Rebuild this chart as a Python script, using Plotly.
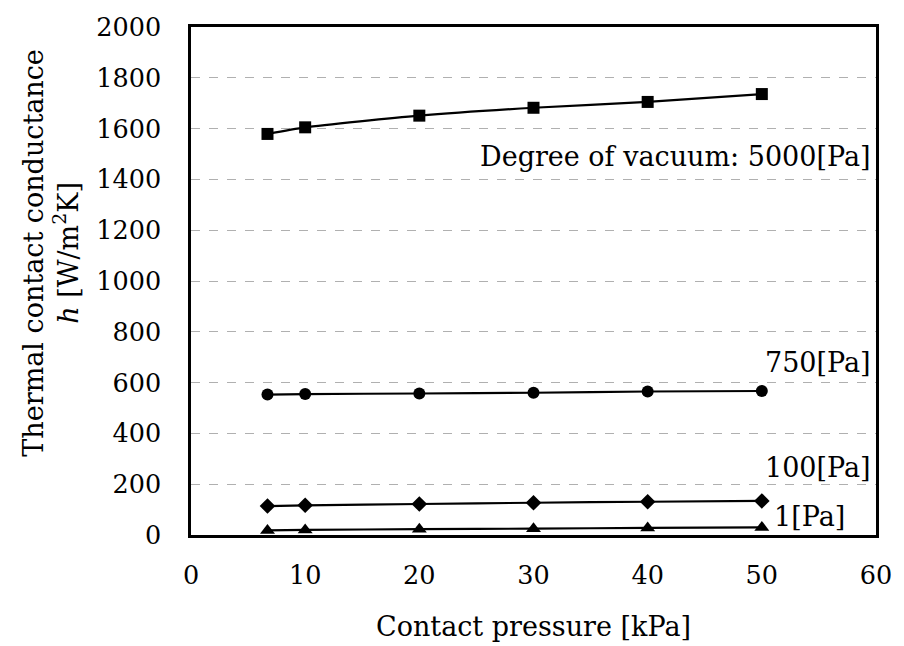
import plotly.graph_objects as go

pressure = [6.7, 10, 20, 30, 40, 50]
h_5000 = [1579, 1605, 1651, 1682, 1705, 1736]
h_750 = [553, 555, 557, 560, 565, 567]
h_100 = [114, 117, 122, 127, 131, 134]
h_1 = [18, 20, 23, 25, 28, 30]

series = [
    (h_5000, "square", 12, "Degree of vacuum: 5000[Pa]", 1490, 59.7),
    (h_750, "circle", 12, "750[Pa]", 678, 59.7),
    (h_100, "diamond", 12, "100[Pa]", 267, 59.7),
    (h_1, "triangle-up", 13, "1[Pa]", 71, 57.5),
]

FONT = "DejaVu Serif, serif"
fig = go.Figure()
annotations = []
for vals, sym, size, label, ly, lx in series:
    fig.add_trace(go.Scatter(
        x=pressure, y=vals, mode="lines+markers",
        line=dict(color="black", width=2.2, shape="spline", smoothing=0.6),
        marker=dict(symbol=sym, size=size, color="black"),
        showlegend=False,
    ))
    annotations.append(dict(x=lx, y=ly, xref="x", yref="y", text=label,
                            showarrow=False, xanchor="right", yanchor="middle",
                            font=dict(family=FONT, size=27, color="black")))

annotations.append(dict(x=0.5, y=-0.18, xref="paper", yref="paper",
                        text="Contact pressure [kPa]", showarrow=False,
                        xanchor="center", yanchor="middle",
                        font=dict(family=FONT, size=27, color="black")))
annotations.append(dict(x=-0.205, y=0.555, xref="paper", yref="paper",
                        text="Thermal contact conductance<br><i>h</i> [W/m<sup>2</sup>K]",
                        showarrow=False, textangle=-90,
                        xanchor="center", yanchor="middle",
                        font=dict(family=FONT, size=27, color="black")))

fig.update_layout(
    width=904, height=646,
    margin=dict(l=191, r=22, t=25, b=111),
    paper_bgcolor="white", plot_bgcolor="white",
    font=dict(family=FONT, size=25, color="black"),
    annotations=annotations,
)
fig.update_xaxes(range=[0, 60], dtick=10, showgrid=False, zeroline=False,
                 showline=True, linecolor="black", linewidth=2.5, mirror=True,
                 ticks="", ticklabelstandoff=16,
                 tickfont=dict(family=FONT, size=25.5, color="black"))
fig.update_yaxes(range=[0, 2000], dtick=200, showgrid=True, gridcolor="#b0b0b0",
                 griddash="dash", gridwidth=1, zeroline=False,
                 showline=True, linecolor="black", linewidth=2.5, mirror=True,
                 ticks="", ticklabelstandoff=22,
                 tickfont=dict(family=FONT, size=25.5, color="black"))

fig.write_html("out.html")
